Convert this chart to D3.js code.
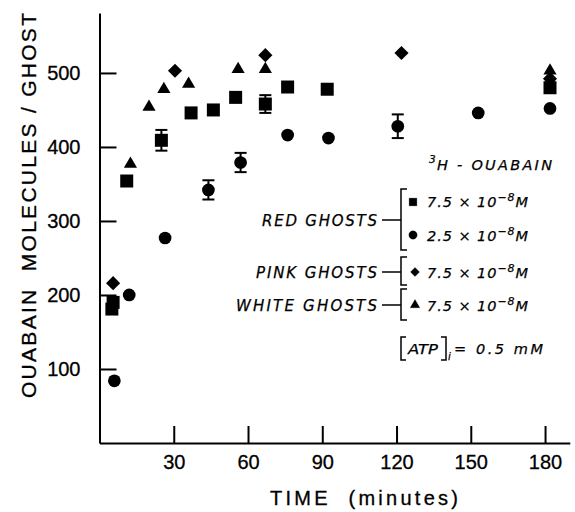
<!DOCTYPE html>
<html><head><meta charset="utf-8">
<script src="https://cdn.jsdelivr.net/npm/d3@7/dist/d3.min.js"></script>
<style>body{margin:0;background:#fff}svg{display:block}</style>
</head><body><svg id="c" width="575" height="512"></svg>
<script>
// ---- data (time in minutes, ouabain molecules / ghost) ----
const redHighTime  = [5, 5.5, 11, 25, 37, 46, 55, 67, 76, 92, 182];
const redHighValue = [181, 190, 354, 409, 446, 450, 467, 458, 481, 478, 480];
const redHighErr   = [0, 0, 0, 14, 0, 0, 0, 12, 0, 0, 0];

const redLowTime  = [6, 12, 26.5, 44, 57, 76, 92.5, 120.5, 153, 182];
const redLowValue = [84, 200, 277, 342, 379, 416, 412, 428, 446, 452];
const redLowErr   = [0, 0, 0, 13, 13, 0, 0, 16, 0, 0];

const pinkTime  = [5.5, 30.5, 67, 122, 182];
const pinkValue = [216, 503, 524, 527, 492];

const whiteTime  = [12.5, 20, 26, 36, 56, 67, 182];
const whiteValue = [377, 454, 478, 485, 505, 505, 503];

const xTicks = [30, 60, 90, 120, 150, 180];
const yTicks = [100, 200, 300, 400, 500];

const seriesLabels = ["RED GHOSTS", "PINK GHOSTS", "WHITE GHOSTS"];
const concLabels = ["7.5", "2.5", "7.5", "7.5"];

const svg = d3.select("#c");
const FONT = "'Liberation Sans', Arial, sans-serif";
const LFONT = "'DejaVu Sans', sans-serif";

const x = d3.scaleLinear().domain([0, 190]).range([99.5, 569.8]);
const y = d3.scaleLinear().domain([0, 581]).range([443, 13]);

// axes
const gx = svg.append("g").attr("transform", "translate(0,443)")
  .call(d3.axisBottom(x).tickValues(xTicks).tickSizeInner(-17).tickSizeOuter(0).tickPadding(12));
const gy = svg.append("g").attr("transform", "translate(99.5,0)")
  .call(d3.axisLeft(y).tickValues(yTicks).tickSizeInner(-17).tickSizeOuter(0).tickPadding(19));
[gx, gy].forEach(g => {
  g.select(".domain").attr("stroke", "#000").attr("stroke-width", 2);
  g.selectAll(".tick line").attr("stroke", "#000").attr("stroke-width", 2);
  g.selectAll(".tick text").attr("fill", "#000").attr("font-family", FONT).attr("font-size", 20)
    .attr("stroke", "#000").attr("stroke-width", 0.3);
});

// axis titles
svg.append("text")
  .attr("transform", "translate(36,205.5) rotate(-90)")
  .attr("text-anchor", "middle").attr("font-family", FONT).attr("font-size", 21)
  .attr("stroke", "#000").attr("stroke-width", 0.3)
  .attr("textLength", 385).attr("lengthAdjust", "spacing")
  .style("white-space", "pre")
  .text("OUABAIN  MOLECULES / GHOST");
svg.append("text")
  .attr("x", 270).attr("y", 505)
  .attr("font-family", FONT).attr("font-size", 20)
  .attr("stroke", "#000").attr("stroke-width", 0.3)
  .attr("textLength", 188).attr("lengthAdjust", "spacing")
  .style("white-space", "pre")
  .text("TIME  (minutes)");

// error bars
function errorBars(times, values, errs) {
  const d = times.map((t, i) => ({t, v: values[i], e: errs[i]})).filter(p => p.e > 0);
  const g = svg.append("g").attr("stroke", "#000").attr("stroke-width", 2);
  d.forEach(p => {
    g.append("line").attr("x1", x(p.t)).attr("x2", x(p.t)).attr("y1", y(p.v - p.e)).attr("y2", y(p.v + p.e));
    [p.v - p.e, p.v + p.e].forEach(vv =>
      g.append("line").attr("x1", x(p.t) - 6).attr("x2", x(p.t) + 6).attr("y1", y(vv)).attr("y2", y(vv)));
  });
}
errorBars(redHighTime, redHighValue, redHighErr);
errorBars(redLowTime, redLowValue, redLowErr);

// markers
function points(times, values, type, size, rot) {
  svg.append("g").selectAll("path").data(times.map((t, i) => [t, values[i]])).join("path")
    .attr("d", d3.symbol().type(type).size(size))
    .attr("transform", d => `translate(${x(d[0])},${y(d[1])}) rotate(${rot || 0})`)
    .attr("fill", "#000");
}
points(whiteTime, whiteValue, d3.symbolTriangle, 75);
points(pinkTime, pinkValue, d3.symbolSquare, 100, 45);
points(redHighTime, redHighValue, d3.symbolSquare, 169);
points(redLowTime, redLowValue, d3.symbolCircle, 127);

// ---- legend ----
const lg = svg.append("g").attr("font-family", LFONT).attr("font-style", "italic").attr("font-size", 14.5)
  .attr("fill", "#000").attr("stroke", "#000").attr("stroke-width", 0.25);
// title
lg.append("text").attr("x", 429).attr("y", 163).attr("font-size", 10.5).text("3");
lg.append("text").attr("x", 437).attr("y", 170).attr("textLength", 115).attr("lengthAdjust", "spacing")
  .style("white-space", "pre").text("H - OUABAIN");

function conc(val, xp, yp) {
  const t = lg.append("text").attr("x", xp).attr("y", yp).attr("textLength", 101).attr("lengthAdjust", "spacing").style("white-space", "pre");
  t.append("tspan").text(val + " × 10");
  t.append("tspan").attr("font-size", 11).attr("dy", -6).text("−8");
  t.append("tspan").attr("dy", 6).text("M");
}
function bracket(y1, y2) {
  lg.append("path").attr("d", `M407,${y1} H401 V${y2} H407`).attr("fill", "none").attr("stroke", "#000").attr("stroke-width", 1.5);
}
function dash(yp) {
  lg.append("line").attr("x1", 382).attr("x2", 401).attr("y1", yp).attr("y2", yp).attr("stroke", "#000").attr("stroke-width", 1.5);
}
function label(txt, x0, yp) {
  lg.append("text").attr("x", x0).attr("y", yp).attr("font-size", 15)
    .attr("textLength", 377 - x0).attr("lengthAdjust", "spacing").text(txt);
}
// red ghosts
label(seriesLabels[0], 262, 226); dash(220); bracket(189, 250);
lg.append("path").attr("d", d3.symbol().type(d3.symbolSquare).size(60)()).attr("transform", "translate(413,202)");
conc(concLabels[0], 427, 207);
lg.append("path").attr("d", d3.symbol().type(d3.symbolCircle).size(55)()).attr("transform", "translate(413,235)");
conc(concLabels[1], 427, 241);
// pink ghosts
label(seriesLabels[1], 256, 278); dash(272); bracket(257, 285);
lg.append("path").attr("d", d3.symbol().type(d3.symbolSquare).size(40)()).attr("transform", "translate(415,272) rotate(45)");
conc(concLabels[2], 427, 278);
// white ghosts
label(seriesLabels[2], 236, 311); dash(305); bracket(289, 320);
lg.append("path").attr("d", d3.symbol().type(d3.symbolTriangle).size(40)()).attr("transform", "translate(415,305)");
conc(concLabels[3], 427, 311);
// ATP
lg.append("path").attr("d", "M406,337 H401 V360 H406").attr("fill", "none").attr("stroke", "#000").attr("stroke-width", 1.5);
lg.append("text").attr("x", 408).attr("y", 354).attr("textLength", 30).attr("lengthAdjust", "spacingAndGlyphs").text("ATP");
lg.append("path").attr("d", "M441,337 H446 V360 H441").attr("fill", "none").attr("stroke", "#000").attr("stroke-width", 1.5);
lg.append("text").attr("x", 448).attr("y", 360).attr("font-size", 10).text("i");
lg.append("text").attr("x", 454).attr("y", 354).style("white-space", "pre")
  .attr("textLength", 89).attr("lengthAdjust", "spacing").text("= 0.5 mM");
</script></body></html>
